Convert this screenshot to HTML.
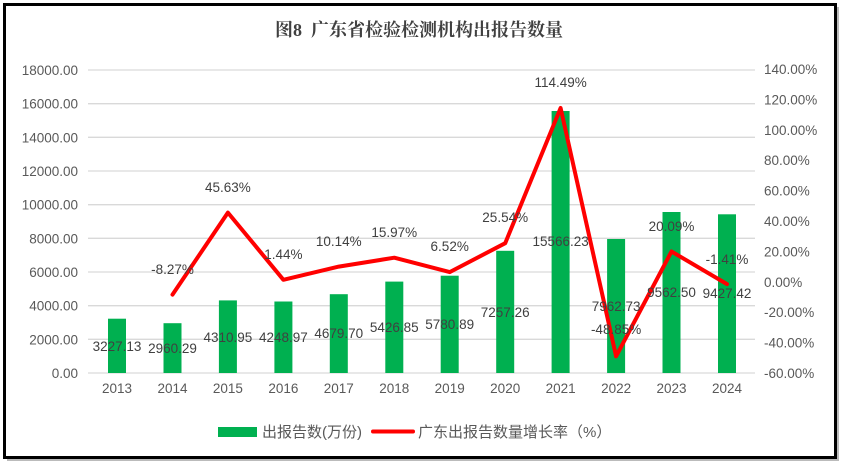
<!DOCTYPE html>
<html><head><meta charset="utf-8"><style>
html,body{margin:0;padding:0;background:#fff;}
svg{display:block;font-family:"Liberation Sans","Noto Sans CJK SC",sans-serif;}
</style></head><body>
<svg width="848" height="470" viewBox="0 0 848 470" xmlns="http://www.w3.org/2000/svg">
<rect x="0" y="0" width="848" height="470" fill="#fff"/>
<rect x="7" y="7" width="832" height="454" fill="#bbb"/>
<rect x="4.5" y="4.5" width="831" height="453" fill="#fff" stroke="#000" stroke-width="3"/>
<text x="419" y="36" text-anchor="middle" font-family="'Liberation Serif','Noto Serif CJK SC',serif" font-weight="bold" font-size="18" fill="#404040">图8&#160;&#160;广东省检验检测机构出报告数量</text>
<g stroke="#d9d9d9" stroke-width="1.3">
<line x1="88" x2="755" y1="70" y2="70"/><line x1="88" x2="755" y1="103.7" y2="103.7"/>
<line x1="88" x2="755" y1="137.3" y2="137.3"/><line x1="88" x2="755" y1="171" y2="171"/>
<line x1="88" x2="755" y1="204.7" y2="204.7"/><line x1="88" x2="755" y1="238.3" y2="238.3"/>
<line x1="88" x2="755" y1="272" y2="272"/><line x1="88" x2="755" y1="305.7" y2="305.7"/>
<line x1="88" x2="755" y1="339.3" y2="339.3"/><line x1="88" x2="755" y1="373" y2="373"/>
</g>
<g font-size="13.5" fill="#595959" text-anchor="end">
<text x="78" y="75">18000.00</text><text x="78" y="108.7">16000.00</text><text x="78" y="142.3">14000.00</text>
<text x="78" y="176">12000.00</text><text x="78" y="209.7">10000.00</text><text x="78" y="243.3">8000.00</text>
<text x="78" y="277">6000.00</text><text x="78" y="310.7">4000.00</text><text x="78" y="344.3">2000.00</text><text x="78" y="378">0.00</text>
</g>
<g font-size="13.5" fill="#595959" text-anchor="start">
<text x="764" y="74">140.00%</text><text x="764" y="104.4">120.00%</text><text x="764" y="134.8">100.00%</text>
<text x="764" y="165.2">80.00%</text><text x="764" y="195.6">60.00%</text><text x="764" y="226">40.00%</text>
<text x="764" y="256.4">20.00%</text><text x="764" y="286.8">0.00%</text><text x="764" y="317.2">-20.00%</text>
<text x="764" y="347.6">-40.00%</text><text x="764" y="378">-60.00%</text>
</g>
<g fill="#00b050">
<rect x="108" y="318.7" width="18" height="54.3"/><rect x="163.5" y="323.2" width="18" height="49.8"/>
<rect x="218.9" y="300.4" width="18" height="72.6"/><rect x="274.4" y="301.5" width="18" height="71.5"/>
<rect x="329.8" y="294.2" width="18" height="78.8"/><rect x="385.3" y="281.6" width="18" height="91.4"/>
<rect x="440.7" y="275.7" width="18" height="97.3"/><rect x="496.2" y="250.8" width="18" height="122.2"/>
<rect x="551.6" y="111" width="18" height="262"/><rect x="607.1" y="239" width="18" height="134"/>
<rect x="662.5" y="212" width="18" height="161"/><rect x="718" y="214.3" width="18" height="158.7"/>
</g>
<g font-size="13.5" fill="#595959" text-anchor="middle">
<text x="117" y="393">2013</text><text x="172.5" y="393">2014</text><text x="227.9" y="393">2015</text>
<text x="283.4" y="393">2016</text><text x="338.8" y="393">2017</text><text x="394.3" y="393">2018</text>
<text x="449.7" y="393">2019</text><text x="505.2" y="393">2020</text><text x="560.6" y="393">2021</text>
<text x="616.1" y="393">2022</text><text x="671.5" y="393">2023</text><text x="727" y="393">2024</text>
</g>
<polyline fill="none" stroke="#ff0000" stroke-width="4" stroke-linejoin="round" stroke-linecap="round"
points="172.5,294.6 227.9,212.6 283.4,279.8 338.8,266.6 394.3,257.7 449.7,272.1 505.2,243.2 560.6,108 616.1,356.3 671.5,251.5 727,284.1"/>
<g font-size="13.5" fill="#404040" text-anchor="middle">
<text x="117" y="351">3227.13</text><text x="172.5" y="353">2960.29</text><text x="227.9" y="342">4310.95</text>
<text x="283.4" y="342">4248.97</text><text x="338.8" y="338">4679.70</text><text x="394.3" y="332">5426.85</text>
<text x="449.7" y="329">5780.89</text><text x="505.2" y="317">7257.26</text><text x="560.6" y="246">15566.23</text>
<text x="616.1" y="311">7962.73</text><text x="671.5" y="297">9562.50</text><text x="727" y="298">9427.42</text>
<text x="172.5" y="274">-8.27%</text><text x="227.9" y="192">45.63%</text><text x="283.4" y="259">1.44%</text>
<text x="338.8" y="246">10.14%</text><text x="394.3" y="237">15.97%</text><text x="449.7" y="251">6.52%</text>
<text x="505.2" y="222">25.54%</text><text x="560.6" y="87">114.49%</text><text x="616.1" y="334">-48.85%</text>
<text x="671.5" y="231">20.09%</text><text x="727" y="264">-1.41%</text>
</g>
<rect x="218" y="427" width="39" height="10" fill="#00b050"/>
<text x="262" y="437" font-size="15" fill="#595959">出报告数(万份)</text>
<line x1="373" x2="413" y1="431.5" y2="431.5" stroke="#ff0000" stroke-width="4" stroke-linecap="round"/>
<text x="418" y="437" font-size="15" fill="#595959">广东出报告数量增长率（%）</text>
</svg>
</body></html>
